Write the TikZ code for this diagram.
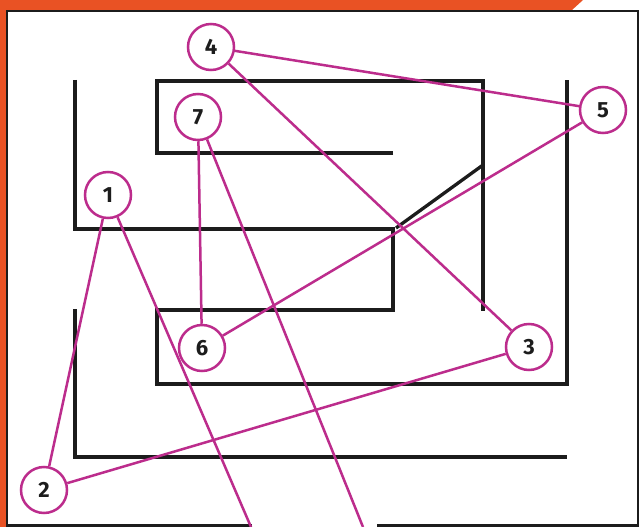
\documentclass[tikz,border=0pt]{standalone}
\usepackage{fontspec}
\setmainfont{Fira Sans}
\definecolor{mag}{RGB}{188,44,140}
\definecolor{orng}{RGB}{233,82,36}
\definecolor{ink}{RGB}{28,28,28}
\begin{document}
\begin{tikzpicture}[x=1pt,y=-1pt,
  maze/.style={line width=3.3pt, draw=ink},
  link/.style={line width=2.5pt, draw=mag},
  num/.style={circle, draw=mag, line width=2.5pt, fill=white, minimum size=46pt,
    inner sep=0pt, font=\fontsize{22}{22}\selectfont\bfseries, text=ink}]
  \fill[white] (0,0) rectangle (641,527);
  \useasboundingbox (0,0) rectangle (641,527);
  \fill[orng] (0,0) -- (583,0) -- (572,10) -- (7,10) -- (7,527) -- (0,527) -- cycle;
  \draw[line width=2.5pt, draw=ink] (252,525.5) -- (7,525.5) -- (7,11) -- (638,11) -- (638,525.5) -- (377,525.5);
  % maze
  \draw[maze] (75,80) -- (75,229) -- (393,229) -- (393,310) -- (157,310) -- (157,384) -- (567,384) -- (567,80);
  \draw[maze] (393,153) -- (157,153) -- (157,81) -- (483,81) -- (483,311);
  \draw[maze] (396,228) -- (483,165);
  \draw[maze] (75,309) -- (75,457) -- (567,457);
  % numbered circles
  \node[num] (n1) at (108,195) {1};
  \node[num] (n2) at (44,490) {2};
  \node[num] (n3) at (529,347) {3};
  \node[num] (n4) at (211,47) {4};
  \node[num] (n5) at (603,110) {5};
  \node[num] (n6) at (202,348) {6};
  \node[num] (n7) at (198,117) {7};
  \coordinate (e1) at (251,527);
  \coordinate (e7) at (363,527);
  % links
  \draw[link] (n4) -- (n5);
  \draw[link] (n4) -- (n3);
  \draw[link] (n5) -- (n6);
  \draw[link] (n7) -- (n6);
  \draw[link] (n7) -- (e7);
  \draw[link] (n1) -- (n2);
  \draw[link] (n1) -- (e1);
  \draw[link] (n3) -- (n2);
\end{tikzpicture}
\end{document}
